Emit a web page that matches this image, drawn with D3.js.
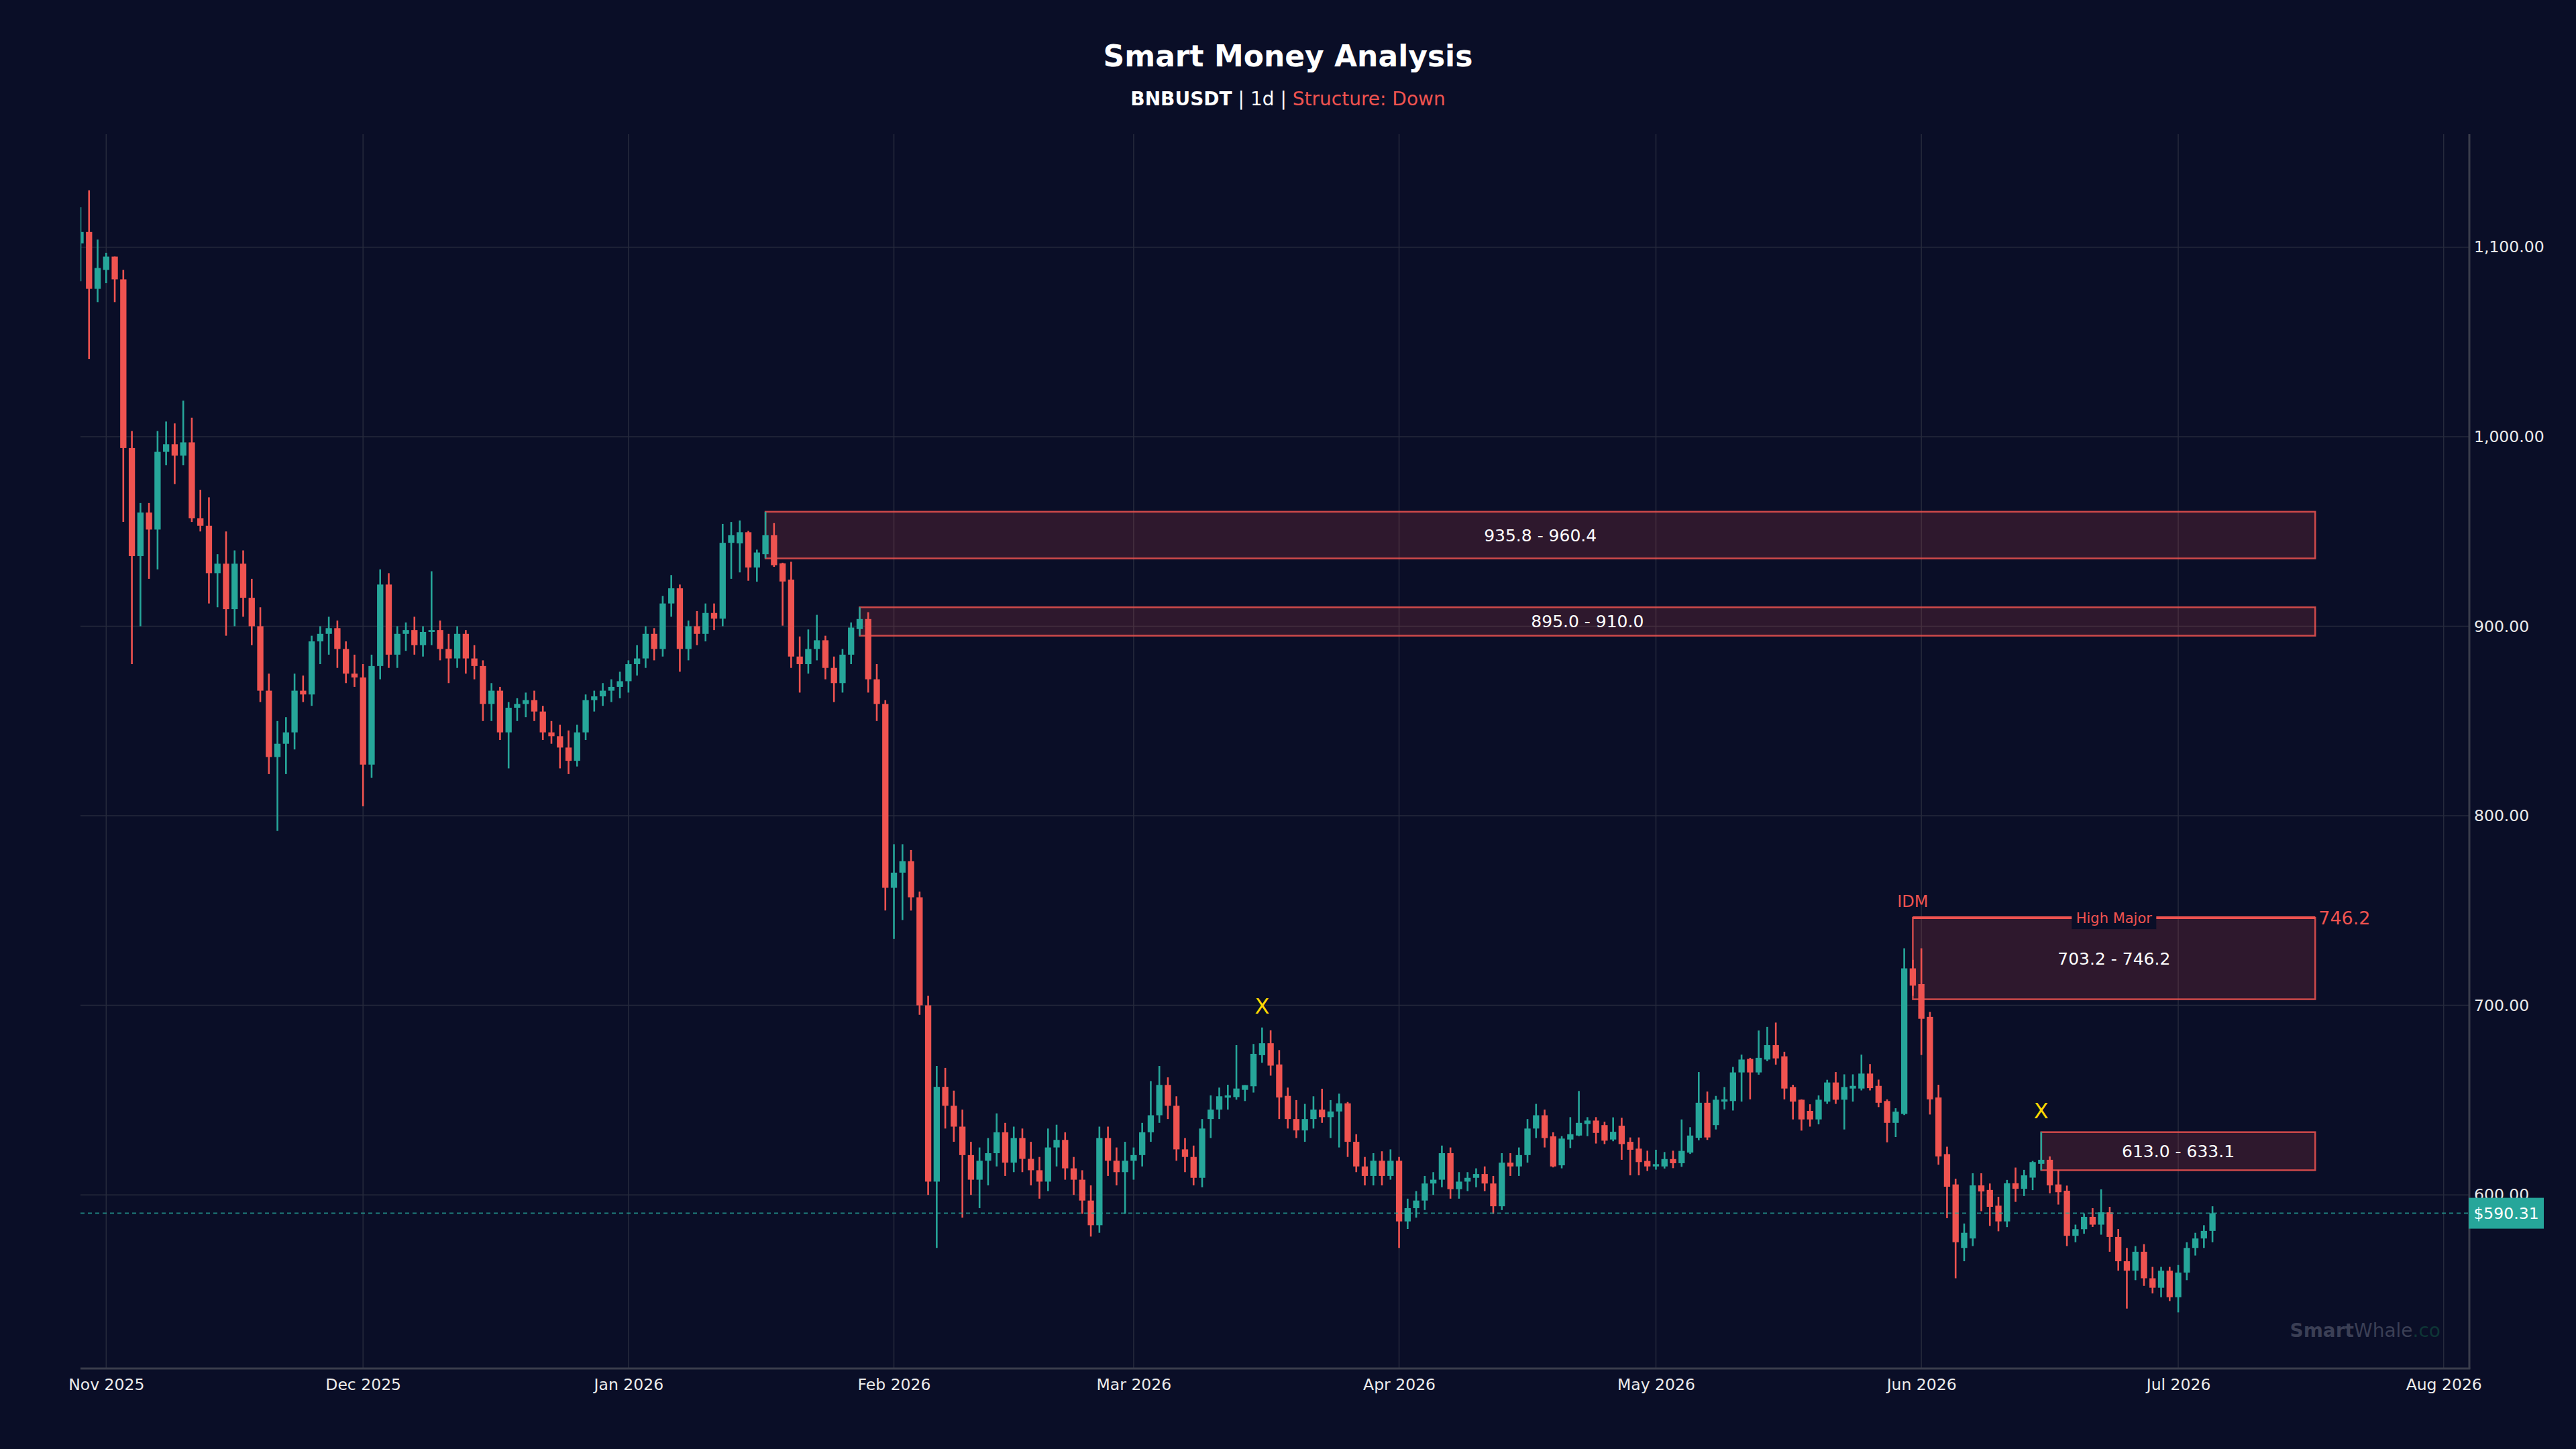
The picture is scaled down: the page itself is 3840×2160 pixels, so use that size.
<!DOCTYPE html>
<html>
<head>
<meta charset="utf-8">
<script src="https://cdn.jsdelivr.net/npm/d3@7"></script>
<style>
  html, body { margin: 0; background: #0a0e27; }
  svg { display: block; }
</style>
</head>
<body>
<div id="chart"></div>
<script>
// daily candles, first one on 29 Oct 2025
var startDay = new Date(2025, 9, 29);

var opens = [
  1102,1108,1078,1088,1095,1083,994,937,960,951,
  992,996,990,997,957,953,928,933,909,933,
  915,900,866,831,838,844,866,864,892,896,
  899,888,875,873,827,879,922,885,896,898,
  890,897,898,888,883,896,883,879,859,866,
  844,857,859,861,855,844,842,836,829,844,
  861,863,866,868,871,880,883,896,888,912,
  920,888,900,896,907,904,944,943.7,949.6,931,
  938,948,933.2,924.6,884,880,888,892.6,878,870,
  885,898.5,903.8,872,859,762,770,776,757,700,
  607,657,647,636,621,608,618,622,633,617,
  630,619,613,607,625,629,614,608,597,584,
  630,618,612,618,621,633,642,658,647,624,
  620,609,640,645,651.3,651.6,655.4,657.3,673.7,680,
  668.8,652.2,640,634,640,645,641,644,648.3,628,
  615,610,618,610,618,586,593,597,606,608,
  622,603,607,609,611,606,594,617,615,621,
  635,642,630.9,615.6,629.2,631.3,637.4,639.2,636.8,629.2,
  636.5,628,624.4,617.9,615,615,618.9,616.7,622.3,630.1,
  648.6,636.8,649.2,649.5,664.6,671.7,664.6,671.4,679,673.1,
  656.9,650.2,644.3,639.8,649.2,659.3,650.2,656.1,656.1,664,
  657.5,649.5,638,642.7,719.5,711.2,693.9,651.4,621.5,605.5,
  572,577,605,602.6,594.3,586,606.1,603.2,609.1,616.4,
  618.5,605.5,602.2,578.4,581.9,588.4,584.3,590.8,577.8,565,
  560,570,556,551,560,546,559,572,577,581
];
var highs = [
  1121,1130,1104,1097,1095,1088,1003,965,965,1003,
  1008,1007,1019,1010,972,968,938,950,940,940,
  925,910,875,850,852,875,874,895,900,905,
  903,892,885,880,885,930,928,900,902,905,
  900,929,903,896,900,898,890,882,870,868,
  860,862,865,866,858,850,848,845,848,864,
  866,870,872,876,882,890,900,899,916,927,
  922,903,908,912,912,954,955,955.8,950.3,940.4,
  960.4,954.4,933.5,934,894.6,898.3,906,895,884,888,
  902,910,907.4,880,861,785,785,782,760,705,
  668,667,655,645,628,625,630,643,638,636,
  635,628,620,635,637,633,620,613,605,636,
  636,625,628,625,638,660,668,662,652,630,
  626,640,652.5,656.6,658.1,679,657.9,679.6,688.3,686.8,
  676.4,656.6,650,648,652,656,650,653.4,649,632,
  620,622,623,624,620,598,602,610,612,626,
  625,612,612,614,615,610,622,622,625,640,
  648,645,633,631,641,654.8,641,641,638.6,640.9,
  640.7,630.3,630.3,623.3,623.8,622.6,623.3,639.8,635.7,664.8,
  654.5,652.2,656.9,667.5,674,672.3,686.7,688.6,690.9,675.5,
  658.1,650.4,647.8,652.5,660.7,664.8,663.6,663.6,674,669,
  660.8,650.4,645.7,730.1,724,730.1,696.5,658.1,625.4,608.5,
  584.9,611.4,611.4,606,599,607.9,614.4,613.2,617.9,633.1,
  620.3,613.2,604.9,584.3,590.2,593,602.9,593.7,582,572,
  573,574,562,562,562,563,575,580,584,594
];
var lows = [
  1082,1041,1071,1081,1071,955,880,900,925,930,
  985,975,985,955,950,912,910,895,900,905,
  890,860,822,792,822,835,860,858,880,885,
  878,870,868,805,820,872,878,878,887,885,
  884,890,882,870,878,875,872,850,850,840,
  825,850,852,850,840,838,825,822,826,840,
  855,858,860,862,865,874,878,882,884,905,
  876,882,890,892,898,900,925,928.4,924,923.5,
  935.8,931.3,900.3,878,865,875,882,872,860,865,
  880,895,865,850,750,735,745,750,695,600,
  572,635,628,588,600,593,605,615,610,612,
  612,605,598,602,615,608,600,590,578,580,
  610,605,590,608,615,628,638,640,618,612,
  605,604,630,640,645,650.2,649.5,654,669.7,662.9,
  640,635,630,628,635,638,630,625,620,612,
  605,605,605,608,572,582,588,592,600,604,
  598,598,602,604,602,590,592,610,610,617,
  630,625,614.5,614,624.7,631,631,627.1,626.8,628.3,
  618.5,610.3,610.3,612.6,613.3,613.9,614.1,614.8,621.6,628.8,
  629,634.5,645.1,644.5,649.2,650.4,663.4,670.5,668.7,650.4,
  639.8,633.9,636,637.2,648,648,634.5,649.2,655.1,655.1,
  646.3,627.7,630.5,642.1,705,673.8,642.4,615.9,587.7,556,
  565,573,591.4,583.6,580.8,583,596.3,599.4,602.5,613,
  600.8,594.9,573,575,579.5,583.1,579,570,560,540,
  555,552,548,546,544,538,555,568,572,575
];
var closes = [
  1108,1078,1089,1095,1083,994,937,960,951,992,
  996,990,997,957,953,928,933,909,933,915,
  900,866,831,838,844,866,864,892,896,899,
  888,875,873,827,879,922,885,896,898,890,
  897,898,888,883,896,883,879,859,866,844,
  857,859,861,855,844,842,836,829,844,861,
  863,866,868,871,880,883,896,888,912,920,
  888,900,896,907,904,944,948,949.6,931,938.9,
  948,932.2,923.6,884,880,888,892.6,878,870,885,
  899.3,903.8,872,859,762,770,776,757,700,607,
  657,647,636,621,608,618,622,633,617,630,
  619,613,607,625,629,614,608,597,584,630,
  618,612,618,621,633,642,658,647,624,620,
  609,635,645,652,652.5,656.1,657.9,674.4,680,668.2,
  651.4,640,634,640,645,641,644,648.3,628,615,
  610,618,610,618,586,593,597,606,608,622,
  603,607,609,611,606,594,617,615,621,635,
  642,630,615,629.7,632,638,639.2,632.7,628.6,633.3,
  626.8,623.8,617.3,615,616.2,618.9,616.7,623.2,631.3,648.6,
  630.3,650.2,650.4,664.6,671.4,664.6,672.3,679,672,656.1,
  649.2,639.8,639.8,650.2,659.3,650.2,656.9,657.5,664,656.3,
  648.6,638,643.9,719.5,710.4,692.9,650.4,620.3,604.3,575,
  580,605,601.8,593.7,586,606.1,603.2,610.3,617.3,618.5,
  605,601.4,578.4,581.9,588.4,584.3,590.8,577.8,565,560,
  570,556,551,560,546,559,572,577,581,590.31
];

// supply zones: candle index where they start, bottom and top price
var zoneStart = [80, 91, 214, 229];
var zoneLow = [935.8, 895.0, 703.2, 613.0];
var zoneHigh = [960.4, 910.0, 746.2, 633.1];
var highMajor = 746.2;
var idmIndex = 214;
var xMarks = [138, 229];
var lastPrice = 590.31;

var width = 3840,
    height = 2160;
var plotLeft = 120, plotRight = 3681, plotTop = 200, plotBottom = 2040;

var green = "#26a69a",
    red = "#ef5350",
    bg = "#0a0e27",
    font = "DejaVu Sans, Verdana, sans-serif";

var candles = d3.range(opens.length).map(function(i) {
  return {i: i, date: d3.timeDay.offset(startDay, i), o: opens[i], h: highs[i], l: lows[i], c: closes[i]};
});
var lastDay = candles[candles.length - 1].date;

var svg = d3.select("#chart").append("svg")
    .attr("width", width)
    .attr("height", height)
    .style("background", bg);

var x = d3.scaleTime()
    .domain([startDay, d3.timeDay.offset(lastDay, 30)])
    .range([plotLeft, plotRight]);

var lo = d3.min(lows), hi = d3.max(highs), pad = (hi - lo) * 0.05;
var y = d3.scaleLinear()
    .domain([lo - pad, hi + pad])
    .range([plotBottom, plotTop]);

var step = x(d3.timeDay.offset(startDay, 1)) - x(startDay);
var bodyW = step * 0.73;

svg.append("defs").append("clipPath").attr("id", "plot")
  .append("rect")
    .attr("x", plotLeft).attr("y", plotTop)
    .attr("width", plotRight - plotLeft).attr("height", plotBottom - plotTop);

// grid
var monthTicks = x.ticks(d3.timeMonth.every(1));
var priceTicks = y.ticks(6);

svg.append("g").selectAll("line").data(monthTicks).enter().append("line")
    .attr("x1", function(d) { return x(d); })
    .attr("x2", function(d) { return x(d); })
    .attr("y1", plotTop).attr("y2", plotBottom)
    .attr("stroke", "#262a3c").attr("stroke-width", 1.5);

svg.append("g").selectAll("line").data(priceTicks).enter().append("line")
    .attr("x1", plotLeft).attr("x2", plotRight)
    .attr("y1", function(d) { return y(d); })
    .attr("y2", function(d) { return y(d); })
    .attr("stroke", "#262a3c").attr("stroke-width", 1.5);

// title
svg.append("text")
    .attr("x", width / 2).attr("y", 99)
    .attr("text-anchor", "middle")
    .attr("font-family", font).attr("font-size", "44px").attr("font-weight", "bold")
    .attr("fill", "#ffffff")
    .text("Smart Money Analysis");

var sub = svg.append("text")
    .attr("x", width / 2).attr("y", 157)
    .attr("text-anchor", "middle")
    .attr("font-family", font).attr("font-size", "28px")
    .attr("fill", "#ffffff");
sub.append("tspan").attr("font-weight", "bold").text("BNBUSDT");
sub.append("tspan").text(" | 1d | ");
sub.append("tspan").attr("fill", red).text("Structure: Down");

// zones
var zoneEnd = d3.timeDay.offset(lastDay, 12);
var zones = svg.append("g").attr("clip-path", "url(#plot)");

zoneStart.forEach(function(s, k) {
  var x0 = x(candles[s].date), x1 = x(zoneEnd);
  zones.append("rect")
      .attr("x", x0).attr("y", y(zoneHigh[k]))
      .attr("width", x1 - x0).attr("height", y(zoneLow[k]) - y(zoneHigh[k]))
      .attr("fill", red).attr("fill-opacity", 0.16)
      .attr("stroke", red).attr("stroke-opacity", 0.85).attr("stroke-width", 2.5);
});

// candles
var cg = svg.append("g").attr("clip-path", "url(#plot)");

cg.selectAll(".wick").data(candles).enter().append("line")
    .attr("class", "wick")
    .attr("x1", function(d) { return x(d.date); })
    .attr("x2", function(d) { return x(d.date); })
    .attr("y1", function(d) { return y(d.h); })
    .attr("y2", function(d) { return y(d.l); })
    .attr("stroke", function(d) { return d.c >= d.o ? green : red; })
    .attr("stroke-width", 2.6);

cg.selectAll(".body").data(candles).enter().append("rect")
    .attr("class", "body")
    .attr("x", function(d) { return x(d.date) - bodyW / 2; })
    .attr("y", function(d) { return y(Math.max(d.o, d.c)); })
    .attr("width", bodyW)
    .attr("height", function(d) { return Math.max(2, Math.abs(y(d.o) - y(d.c))); })
    .attr("fill", function(d) { return d.c >= d.o ? green : red; });

// zone labels
zoneStart.forEach(function(s, k) {
  var x0 = x(candles[s].date), x1 = x(zoneEnd);
  svg.append("text")
      .attr("x", (x0 + x1) / 2)
      .attr("y", (y(zoneHigh[k]) + y(zoneLow[k])) / 2)
      .attr("dy", "0.36em")
      .attr("text-anchor", "middle")
      .attr("font-family", font).attr("font-size", "25px")
      .attr("fill", "#ffffff")
      .text(zoneLow[k].toFixed(1) + " - " + zoneHigh[k].toFixed(1));
});

// high major line
var hx0 = x(candles[idmIndex].date), hx1 = x(zoneEnd), hy = y(highMajor);
svg.append("line")
    .attr("x1", hx0).attr("x2", hx1)
    .attr("y1", hy).attr("y2", hy)
    .attr("stroke", red).attr("stroke-width", 4);

svg.append("rect")
    .attr("x", (hx0 + hx1) / 2 - 63).attr("y", hy - 7)
    .attr("width", 126).attr("height", 24)
    .attr("fill", bg);

svg.append("text")
    .attr("x", (hx0 + hx1) / 2).attr("y", hy)
    .attr("dy", "0.36em")
    .attr("text-anchor", "middle")
    .attr("font-family", font).attr("font-size", "21px")
    .attr("fill", red)
    .text("High Major");

svg.append("text")
    .attr("x", hx1 + 5).attr("y", hy)
    .attr("dy", "0.36em")
    .attr("font-family", font).attr("font-size", "27px")
    .attr("fill", red)
    .text(highMajor.toFixed(1));

svg.append("text")
    .attr("x", hx0).attr("y", hy - 25)
    .attr("dy", "0.36em")
    .attr("text-anchor", "middle")
    .attr("font-family", font).attr("font-size", "24px")
    .attr("fill", red)
    .text("IDM");

// X markers above swing highs
svg.selectAll(".xmark").data(xMarks).enter().append("text")
    .attr("class", "xmark")
    .attr("x", function(i) { return x(candles[i].date); })
    .attr("y", function(i) { return y(candles[i].h) - 32; })
    .attr("dy", "0.36em")
    .attr("text-anchor", "middle")
    .attr("font-family", font).attr("font-size", "32px")
    .attr("fill", "#ffd700")
    .text("X");

// current price
svg.append("line")
    .attr("x1", plotLeft).attr("x2", plotRight)
    .attr("y1", y(lastPrice)).attr("y2", y(lastPrice))
    .attr("stroke", green).attr("stroke-opacity", 0.75)
    .attr("stroke-width", 2)
    .attr("stroke-dasharray", "6,5");

// watermark
var wm = svg.append("text")
    .attr("x", 3638).attr("y", 1993)
    .attr("text-anchor", "end")
    .attr("font-family", font).attr("font-size", "28px");
wm.append("tspan").attr("font-weight", "bold").attr("fill", "#3b3f55").text("Smart");
wm.append("tspan").attr("fill", "#3b3f55").text("Whale");
wm.append("tspan").attr("fill", "#0e3636").text(".co");

// axes
var xAxis = svg.append("g")
    .attr("transform", "translate(0," + plotBottom + ")")
    .call(d3.axisBottom(x).ticks(d3.timeMonth.every(1))
      .tickFormat(d3.timeFormat("%b %Y")).tickSize(0).tickPadding(15));

var yAxis = svg.append("g")
    .attr("transform", "translate(" + plotRight + ",0)")
    .call(d3.axisRight(y).ticks(6).tickFormat(d3.format(",.2f")).tickSize(0).tickPadding(7));

[xAxis, yAxis].forEach(function(a) {
  a.select(".domain").remove();
  a.selectAll("text")
      .attr("font-family", font).attr("font-size", "23.5px")
      .attr("fill", "#ececec");
});

// spines
svg.append("line")
    .attr("x1", plotLeft).attr("x2", plotRight + 1.5)
    .attr("y1", plotBottom).attr("y2", plotBottom)
    .attr("stroke", "#3a3d4c").attr("stroke-width", 3);
svg.append("line")
    .attr("x1", plotRight).attr("x2", plotRight)
    .attr("y1", plotTop).attr("y2", plotBottom)
    .attr("stroke", "#3a3d4c").attr("stroke-width", 3);

// price tag
var py = y(lastPrice);
svg.append("rect")
    .attr("x", plotRight - 1).attr("y", py - 23)
    .attr("width", 112).attr("height", 46)
    .attr("fill", green);
svg.append("text")
    .attr("x", plotRight + 55).attr("y", py)
    .attr("dy", "0.36em")
    .attr("text-anchor", "middle")
    .attr("font-family", font).attr("font-size", "23.5px")
    .attr("fill", "#ffffff")
    .text("$" + lastPrice.toFixed(2));
</script>
</body>
</html>
